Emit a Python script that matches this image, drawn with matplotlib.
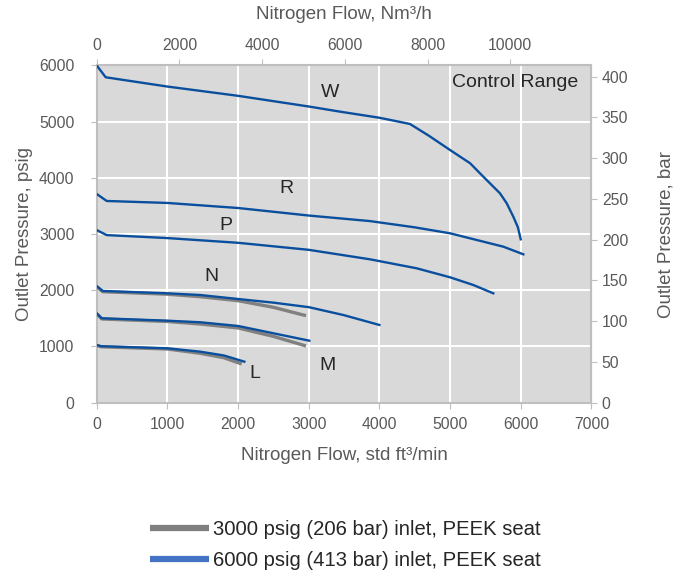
import matplotlib
matplotlib.use('Agg')
import matplotlib.pyplot as plt
from matplotlib.lines import Line2D

plt.rcParams['font.family'] = ['Liberation Sans', 'DejaVu Sans']

# flow in std ft3/min, outlet pressure in psig
w_flow = [0, 127, 1000, 2000, 3000, 3445, 4000, 4433, 4700, 5000, 5284, 5471, 5706, 5802, 5895, 5960, 6000]
w_psig = [6000, 5790, 5625, 5460, 5270, 5178, 5070, 4959, 4750, 4496, 4260, 4021, 3726, 3548, 3310, 3120, 2907]

r_flow = [0, 141, 1000, 2000, 3000, 3868, 4500, 5000, 5754, 6037]
r_psig = [3714, 3589, 3554, 3464, 3330, 3231, 3120, 3014, 2776, 2640]

p_flow = [0, 141, 1000, 2000, 3000, 3868, 4528, 5000, 5329, 5612]
p_psig = [3071, 2982, 2929, 2845, 2720, 2551, 2391, 2231, 2094, 1946]

n_flow = [0, 85, 1000, 1464, 2000, 2500, 3000, 3490, 4000]
n_psig = [2076, 1988, 1946, 1916, 1845, 1780, 1700, 1560, 1383]
n_gray_flow = [0, 85, 1000, 1464, 2000, 2500, 2962]
n_gray_psig = [2060, 1975, 1930, 1886, 1815, 1697, 1548]

m_flow = [0, 71, 1000, 1464, 2000, 2500, 3008]
m_psig = [1591, 1502, 1459, 1431, 1365, 1235, 1103]
m_gray_flow = [0, 71, 1000, 1464, 2000, 2500, 2962]
m_gray_psig = [1580, 1490, 1445, 1400, 1330, 1180, 1009]

l_flow = [0, 60, 1000, 1464, 1800, 2089]
l_psig = [1027, 1005, 968, 908, 840, 730]
l_gray_flow = [0, 60, 1000, 1464, 1800, 2052]
l_gray_psig = [1020, 995, 955, 879, 800, 689]

curve_labels = ['W', 'R', 'P', 'N', 'M', 'L']
label_x = [3302, 2681, 1829, 1620, 3259, 2241]
label_y = [5526, 3817, 3144, 2254, 654, 511]

legend_labels = ['3000 psig (206 bar) inlet, PEEK seat',
                 '6000 psig (413 bar) inlet, PEEK seat']

SCFM_TO_NM3H = 1.709
PSI_PER_BAR = 14.5038

blue = '#0a4f9e'
gray = '#808080'
tick_col = '#595959'
spine_col = '#bfbfbf'

fig = plt.figure(figsize=(6.84, 5.82), dpi=100)
ax = fig.add_axes([0.1414, 0.3081, 0.7232, 0.5794])
ax.set_facecolor('#d9d9d9')

for fx, fy in [(n_gray_flow, n_gray_psig), (m_gray_flow, m_gray_psig), (l_gray_flow, l_gray_psig)]:
    ax.plot(fx, fy, color=gray, lw=2.4, zorder=3, solid_capstyle='butt')
for fx, fy in [(w_flow, w_psig), (r_flow, r_psig), (p_flow, p_psig),
               (n_flow, n_psig), (m_flow, m_psig), (l_flow, l_psig)]:
    ax.plot(fx, fy, color=blue, lw=1.7, zorder=4)

for lab, lx, ly in zip(curve_labels, label_x, label_y):
    ax.text(lx, ly, lab, fontsize=14, color='#262626', ha='center', va='center')
ax.text(0.973, 0.95, 'Control Range', transform=ax.transAxes, fontsize=14,
        color='#262626', ha='right', va='center')

ax.set_xlim(0, 7000)
ax.set_ylim(0, 6000)
ax.set_xticks(range(0, 7001, 1000))
ax.set_yticks(range(0, 6001, 1000))
ax.grid(True, color='white', lw=1.5)
ax.set_axisbelow(True)
for s in ax.spines.values():
    s.set_color(spine_col)
    s.set_linewidth(1.5)
ax.tick_params(colors=spine_col, labelcolor=tick_col, labelsize=11.3, length=4)
ax.tick_params(axis='y', pad=12)
ax.tick_params(axis='x', pad=6)
ax.set_xlabel('Nitrogen Flow, std ft³/min', fontsize=13.5, color=tick_col, labelpad=11)
ax.set_ylabel('Outlet Pressure, psig', fontsize=13.5, color=tick_col, labelpad=4)

top = ax.secondary_xaxis('top', functions=(lambda x: x * SCFM_TO_NM3H, lambda x: x / SCFM_TO_NM3H))
top.set_xticks(range(0, 10001, 2000))
top.tick_params(colors=spine_col, labelcolor=tick_col, labelsize=11.3, length=4, pad=5)
top.spines['top'].set_color(spine_col)
top.set_xlabel('Nitrogen Flow, Nm³/h', fontsize=13.5, color=tick_col, labelpad=14)

right = ax.secondary_yaxis('right', functions=(lambda y: y / PSI_PER_BAR, lambda y: y * PSI_PER_BAR))
right.set_yticks(range(0, 401, 50))
right.tick_params(colors=spine_col, labelcolor=tick_col, labelsize=11.3, length=4)
right.spines['right'].set_color(spine_col)
right.set_ylabel('Outlet Pressure, bar', fontsize=13.5, color=tick_col, labelpad=21)

handles = [Line2D([], [], color='#7f7f7f', lw=4.5, solid_capstyle='butt'),
           Line2D([], [], color='#4472c4', lw=4.5, solid_capstyle='butt')]
fig.legend(handles, legend_labels, loc='center', bbox_to_anchor=(0.505, 0.063),
           frameon=False, fontsize=14.6, handlelength=2.95, handletextpad=0.2,
           labelspacing=0.6, labelcolor='#262626')

fig.savefig('out.png', dpi=100)
